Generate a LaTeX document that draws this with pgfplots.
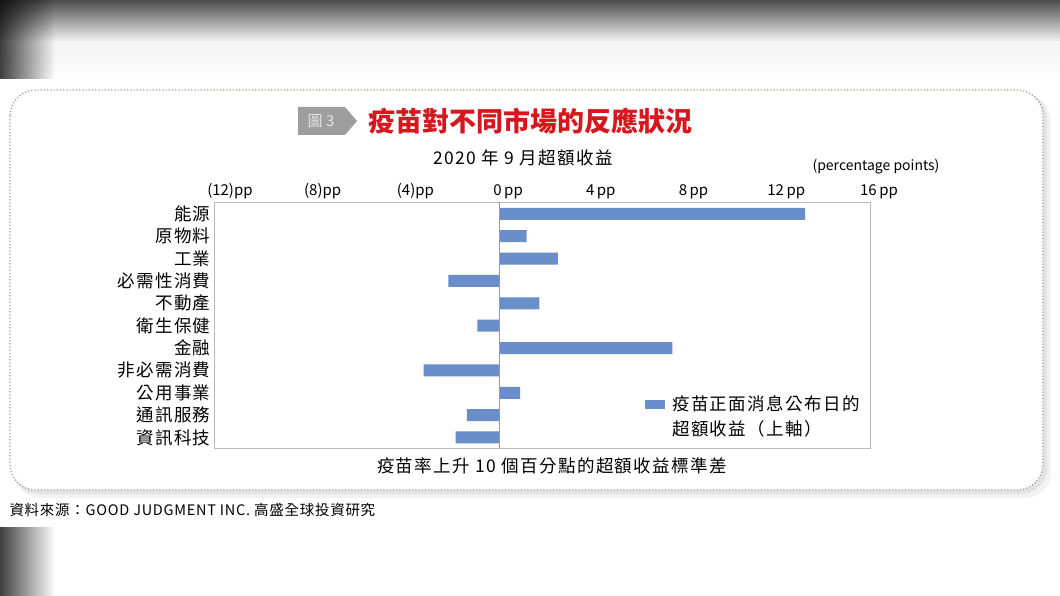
\documentclass[border=0pt]{standalone}
\usepackage{pgfplots}
\pgfplotsset{compat=1.18}
\usepackage{fontspec}
\setmainfont{Noto Sans CJK TC}
\newfontfamily\cjk{Noto Sans CJK TC}
\newfontfamily\cjkw[LetterSpace=8]{Noto Sans CJK TC}
\newfontfamily\cjks[LetterSpace=5]{Noto Sans CJK TC}
\usetikzlibrary{fadings}
\definecolor{barblue}{RGB}{106,142,201}
\definecolor{titlered}{RGB}{214,24,30}
\definecolor{framedot}{RGB}{165,155,145}
\newcommand{\fs}[1]{\fontsize{#1}{#1}\selectfont}

\begin{document}
\begin{tikzpicture}[x=1pt,y=-1pt]
\useasboundingbox (0,0) rectangle (1060,596);
\fill[white] (0,0) rectangle (1060,596);
% photo background bands
\shade[top color=black!70, bottom color=black!4] (0,0) rectangle (1060,42);
\fill[black!4] (0,42) rectangle (1060,50);
\shade[top color=black!4, bottom color=white] (0,50) rectangle (1060,79);
\fill[black, opacity=0.75, path fading=east] (0,0) rectangle (55,79);
\fill[black, opacity=0.75, path fading=east] (0,527) rectangle (55,596);
% card with shadow and dotted border
\fill[black, opacity=0.05, rounded corners=26] (15,95) rectangle (1051,498);
\fill[black, opacity=0.06, rounded corners=26] (12,92) rectangle (1047,494);
\draw[framedot, dotted, line width=1.2pt, fill=white, rounded corners=26] (10,90) rectangle (1043,490);
% heading
\fill[black!38] (298,107) -- (345,107) -- (357,121) -- (345,135) -- (298,135) -- cycle;
\node[text=black!10, font=\cjk\fs{15}] at (321,121) {圖 3};
\node[anchor=west, text=titlered, font=\cjk\bfseries\fs{27}] at (365,121) {疫苗對不同市場的反應狀況};
\node[font=\cjkw\fs{17.5}] at (523,158) {2020 年 9 月超額收益};
\node[font=\cjk\fs{14}] at (876,167) {(percentage points)};

\begin{axis}[
    at={(214pt,-448pt)}, anchor=south west,
    width=656pt, height=246pt, scale only axis,
    xbar, bar width=12pt,
    xmin=-12.3, xmax=16,
    ymin=-0.53, ymax=10.47, y dir=reverse,
    ytick={0,...,10},
    yticklabels={能源,原物料,工業,必需性消費,不動產,衛生保健,金融,非必需消費,公用事業,通訊服務,資訊科技},
    xtick={-12,-8,-4,0,4,8,12,16},
    xticklabels={(12)pp,(8)pp,(4)pp,0\,pp,4\,pp,8\,pp,12\,pp,16\,pp},
    xticklabel pos=upper,
    major tick length=0pt,
    axis line style={black!28},
    xticklabel style={font=\cjk\fs{15}, xshift=9pt},
    yticklabel style={font=\cjkw\fs{17.5}},
    legend style={draw=none, fill=none, at={(rel axis cs:0.657,0.222)}, anchor=north west,
        inner sep=0pt, font=\cjkw\fontsize{17.5}{25}\selectfont, cells={anchor=west, align=left},
        /tikz/every odd column/.append style={column sep=5pt}},
    legend image code/.code={\fill[barblue] (0pt,7.5pt) rectangle (20pt,16.5pt);},
]
\addplot[fill=barblue, draw=none] coordinates {
    (13.2,0) (1.19,1) (2.53,2) (-2.19,3) (1.74,4) (-0.94,5)
    (7.47,6) (-3.26,7) (0.91,8) (-1.39,9) (-1.88,10)};
\addlegendentry{疫苗正面消息公布日的\\超額收益（上軸）}
\draw[black!40] (axis cs:0,-0.53) -- (axis cs:0,10.47);
\end{axis}

\node[font=\cjkw\fs{17.5}] at (552,466) {疫苗率上升 10 個百分點的超額收益標準差};
\node[anchor=west, font=\cjks\fs{14.5}] at (6,510) {資料來源：GOOD JUDGMENT INC. 高盛全球投資研究};
\end{tikzpicture}
\end{document}
